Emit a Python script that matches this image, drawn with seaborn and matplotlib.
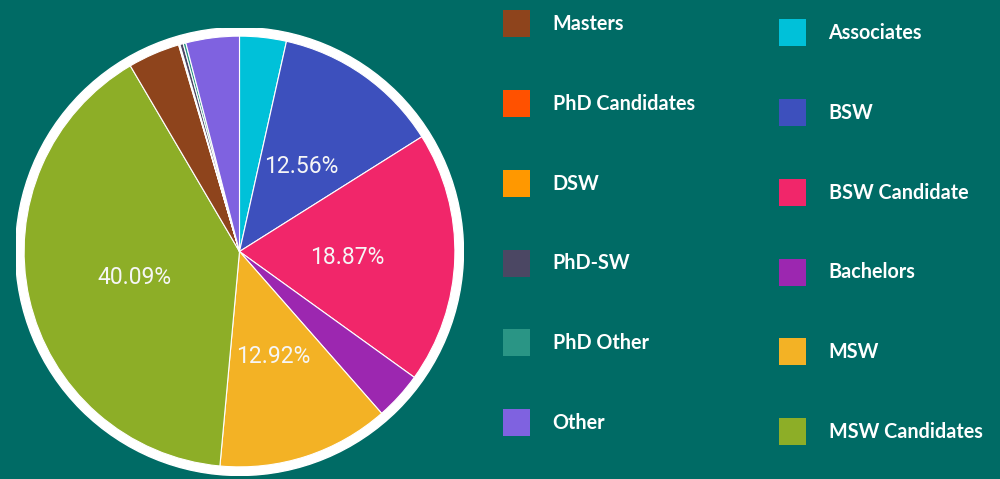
import matplotlib.pyplot as plt
import seaborn as sns
from matplotlib.patches import Circle, Patch

# dados (sentido horario a partir do topo)
categorias = ['Associates', 'BSW', 'BSW Candidate', 'Bachelors', 'MSW', 'MSW Candidates',
              'Masters', 'PhD Candidates', 'DSW', 'PhD-SW', 'PhD Other', 'Other']
percentuais = [3.50, 12.56, 18.87, 3.60, 12.92, 40.09, 3.90, 0.05, 0.05, 0.25, 0.20, 4.01]
cores = ['#00c1d9', '#3d50bd', '#f1266a', '#9c27b0', '#f3b225', '#8dae27',
         '#8e441c', '#ff5100', '#ff9800', '#4b4763', '#2a9585', '#7f62e0']

coluna_esq = ['Masters', 'PhD Candidates', 'DSW', 'PhD-SW', 'PhD Other', 'Other']
coluna_dir = ['Associates', 'BSW', 'BSW Candidate', 'Bachelors', 'MSW', 'MSW Candidates']

fundo = '#006b65'
sns.set_theme(style='white')
paleta = sns.color_palette(cores)
cor_de = dict(zip(categorias, paleta))

fig = plt.figure(figsize=(10, 4.79), dpi=100)
fig.patch.set_facecolor(fundo)

# ===== Pizza =====
ax = fig.add_axes([15.5 / 1000, 3.5 / 479, 448 / 1000, 448 / 479])
ax.add_patch(Circle((0, 0), 1.04, color='white', zorder=0))
ax.pie(percentuais, colors=paleta, startangle=90, counterclock=False,
       autopct=lambda p: f'{p:.2f}%' if p > 10 else '', pctdistance=0.5,
       wedgeprops=dict(edgecolor='white', linewidth=0.8),
       textprops=dict(color='#f6f6f6', fontsize=16.5, family='Roboto',
                      va='center_baseline'))
ax.set_xlim(-1.04, 1.04)
ax.set_ylim(-1.04, 1.04)
ax.set_aspect('equal')
ax.axis('off')

# ===== Legendas (duas colunas) =====
fonte_leg = {'family': 'Lato', 'weight': 'bold', 'size': 14.2}
opcoes = dict(loc='upper left', frameon=False, borderpad=0, borderaxespad=0,
              handlelength=1.37, handleheight=1.73, handletextpad=1.14,
              labelspacing=2.68, prop=fonte_leg, labelcolor='white')

h_esq = [Patch(facecolor=cor_de[n], linewidth=0, label=n) for n in coluna_esq]
h_dir = [Patch(facecolor=cor_de[n], linewidth=0, label=n) for n in coluna_dir]
fig.legend(handles=h_esq, bbox_to_anchor=(0.503, 1 - 10 / 479), **opcoes)
fig.legend(handles=h_dir, bbox_to_anchor=(0.779, 1 - 19 / 479), **opcoes)

plt.savefig('out.png', dpi=100, facecolor=fundo)
plt.close()
